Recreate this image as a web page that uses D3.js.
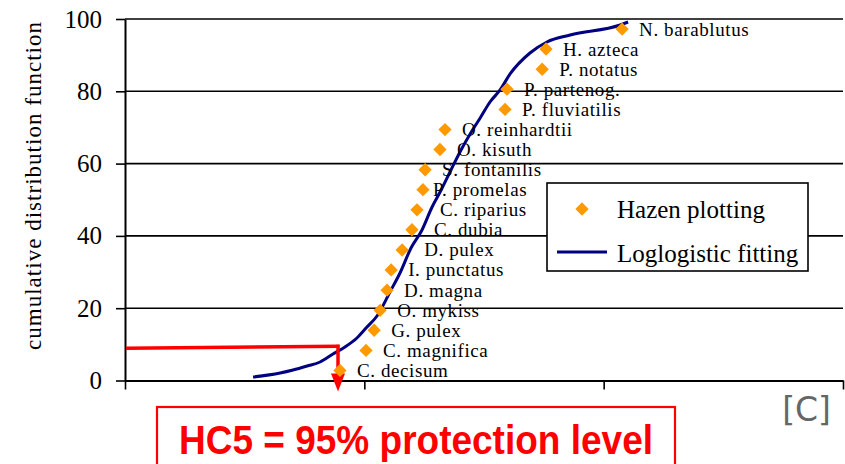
<!DOCTYPE html>
<html><head><meta charset="utf-8">
<script src="https://cdn.jsdelivr.net/npm/d3@7"></script>
<style>body{margin:0;background:#fff}svg{display:block}</style>
</head><body><svg id="c" width="845" height="464"></svg>
<script>
// ---- data ----
const species = ["C. decisum","C. magnifica","G. pulex","O. mykiss","D. magna","I. punctatus","D. pulex","C. dubia","C. riparius","P. promelas","S. fontanilis","O. kisuth","O. reinhardtii","P. fluviatilis","P. partenog.","P. notatus","H. azteca","N. barablutus"];
const speciesX = [0.898,1.007,1.041,1.066,1.095,1.112,1.158,1.199,1.220,1.245,1.254,1.316,1.337,1.588,1.596,1.743,1.759,2.077];
const speciesCDF = [2.78,8.33,13.9,19.4,25.0,30.6,36.1,41.7,47.2,52.8,58.3,63.9,69.4,75.0,80.6,86.1,91.7,97.2];
const fitX = [0.535,0.648,0.702,0.761,0.815,0.869,0.919,0.969,1.011,1.053,1.107,1.149,1.195,1.241,1.283,1.321,1.362,1.404,1.442,1.484,1.525,1.567,1.609,1.692,1.763,1.860,2.069,2.102];
const fitCDF = [0.97,2.07,2.90,4.01,5.12,7.33,9.27,11.76,14.80,17.84,24.48,29.74,36.65,41.63,47.99,52.70,58.23,63.76,68.19,72.61,77.04,80.36,84.79,90.59,93.64,95.57,98.34,99.17];
const xTickValues = [0,1,2,3];
const yTickValues = [0,20,40,60,80,100];
const hc5X = 0.890;
const hc5Level = 9.2;
const legendLabels = ["Hazen plotting","Loglogistic fitting"];
const yTitle = "cumulative distribution function";
const boxText = "HC5 = 95% protection level";
const unitText = "[C]";
// ---- layout / style ----
const labelNudge = {"D. pulex":5,"C. dubia":5,"C. riparius":6,"P. promelas":-7};
const serif = "'Liberation Serif','Times New Roman',serif";
const orange = "#FF9900", navy = "#000080", red = "#FF0000";

const svg = d3.select("#c");
const x = d3.scaleLinear().domain([0,3]).range([125,843]);
const y = d3.scaleLinear().domain([0,100]).range([380.5,19]);

// gridlines
svg.append("g").selectAll("line").data(yTickValues.filter(v=>v>0)).join("line")
  .attr("x1",x(0)).attr("x2",x(3)).attr("y1",d=>y(d)).attr("y2",d=>y(d))
  .attr("stroke","#000").attr("stroke-width",1.6);

// axes
const ya = svg.append("g").attr("transform",`translate(${x(0)},0)`)
  .call(d3.axisLeft(y).tickValues(yTickValues).tickSize(9).tickSizeOuter(0).tickPadding(14).tickFormat(d3.format("d")));
ya.selectAll("text").attr("font-family",serif).attr("font-size",25).attr("fill","#000");
ya.select(".domain").attr("stroke-width",2);
ya.selectAll(".tick line").attr("stroke-width",1.6);
const xa = svg.append("g").attr("transform",`translate(0,${y(0)})`)
  .call(d3.axisBottom(x).tickValues(xTickValues).tickSize(9).tickSizeOuter(0).tickFormat(""));
xa.select(".domain").attr("stroke-width",2);
xa.selectAll(".tick line").attr("stroke-width",1.6);

// y title
svg.append("text").attr("transform","translate(41,186) rotate(-90)")
  .attr("text-anchor","middle").attr("font-family",serif).attr("font-size",23)
  .attr("textLength",328).attr("lengthAdjust","spacing").text(yTitle);

// fit curve
const fit = fitX.map((v,i)=>[v,fitCDF[i]]);
svg.append("path").datum(fit)
  .attr("d",d3.line().x(d=>x(d[0])).y(d=>y(d[1])).curve(d3.curveMonotoneX))
  .attr("fill","none").attr("stroke",navy).attr("stroke-width",3);

// red annotation
svg.append("line").attr("x1",x(0)+1).attr("x2",x(hc5X)+1.5).attr("y1",y(hc5Level)+1).attr("y2",y(hc5Level)-1)
  .attr("stroke",red).attr("stroke-width",3.5);
svg.append("line").attr("x1",x(hc5X)).attr("x2",x(hc5X)).attr("y1",y(hc5Level)-2.5).attr("y2",y(0)-6)
  .attr("stroke",red).attr("stroke-width",3.5);
svg.append("path").attr("d",`M${x(hc5X)-7},${y(0)-7}L${x(hc5X)+7},${y(0)-7}L${x(hc5X)},${y(0)+11}Z`).attr("fill",red);

// points
const pts = species.map((s,i)=>({s, x:speciesX[i], v:speciesCDF[i]}));
const diamond = d3.symbol(d3.symbolSquare, 88);
svg.append("g").selectAll("path").data(pts).join("path")
  .attr("d",diamond).attr("transform",d=>`translate(${x(d.x)},${y(d.v)}) rotate(45)`).attr("fill",orange);
svg.append("g").selectAll("text").data(pts).join("text")
  .attr("x",d=>x(d.x)+17+(labelNudge[d.s]||0)).attr("y",d=>y(d.v)+6.5)
  .attr("font-family",serif).attr("font-size",19).attr("letter-spacing",0.6).text(d=>d.s);

// legend
const lg = svg.append("g");
lg.append("rect").attr("x",547).attr("y",183).attr("width",261).attr("height",88)
  .attr("fill","#fff").attr("stroke","#000").attr("stroke-width",1.6);
lg.append("path").attr("d",diamond).attr("transform","translate(582,209) rotate(45)").attr("fill",orange);
lg.append("line").attr("x1",557).attr("x2",607).attr("y1",252).attr("y2",252).attr("stroke",navy).attr("stroke-width",3);
lg.selectAll("text").data(legendLabels).join("text")
  .attr("x",617).attr("y",(d,i)=>218+i*44).attr("font-family",serif).attr("font-size",25).text(d=>d);

// unit
svg.append("text").attr("x",831).attr("y",421).attr("text-anchor","end")
  .attr("font-family","'DejaVu Sans',sans-serif").attr("font-size",33).attr("fill","#666").text(unitText);

// HC5 box
svg.append("rect").attr("x",157).attr("y",407).attr("width",518).attr("height",70)
  .attr("fill","none").attr("stroke",red).attr("stroke-width",2.2);
svg.append("text").attr("x",179).attr("y",454).attr("font-family","'Liberation Sans',Arial,sans-serif")
  .attr("font-weight","bold").attr("font-size",41).attr("fill",red)
  .attr("textLength",474).attr("lengthAdjust","spacingAndGlyphs").text(boxText);
</script></body></html>
